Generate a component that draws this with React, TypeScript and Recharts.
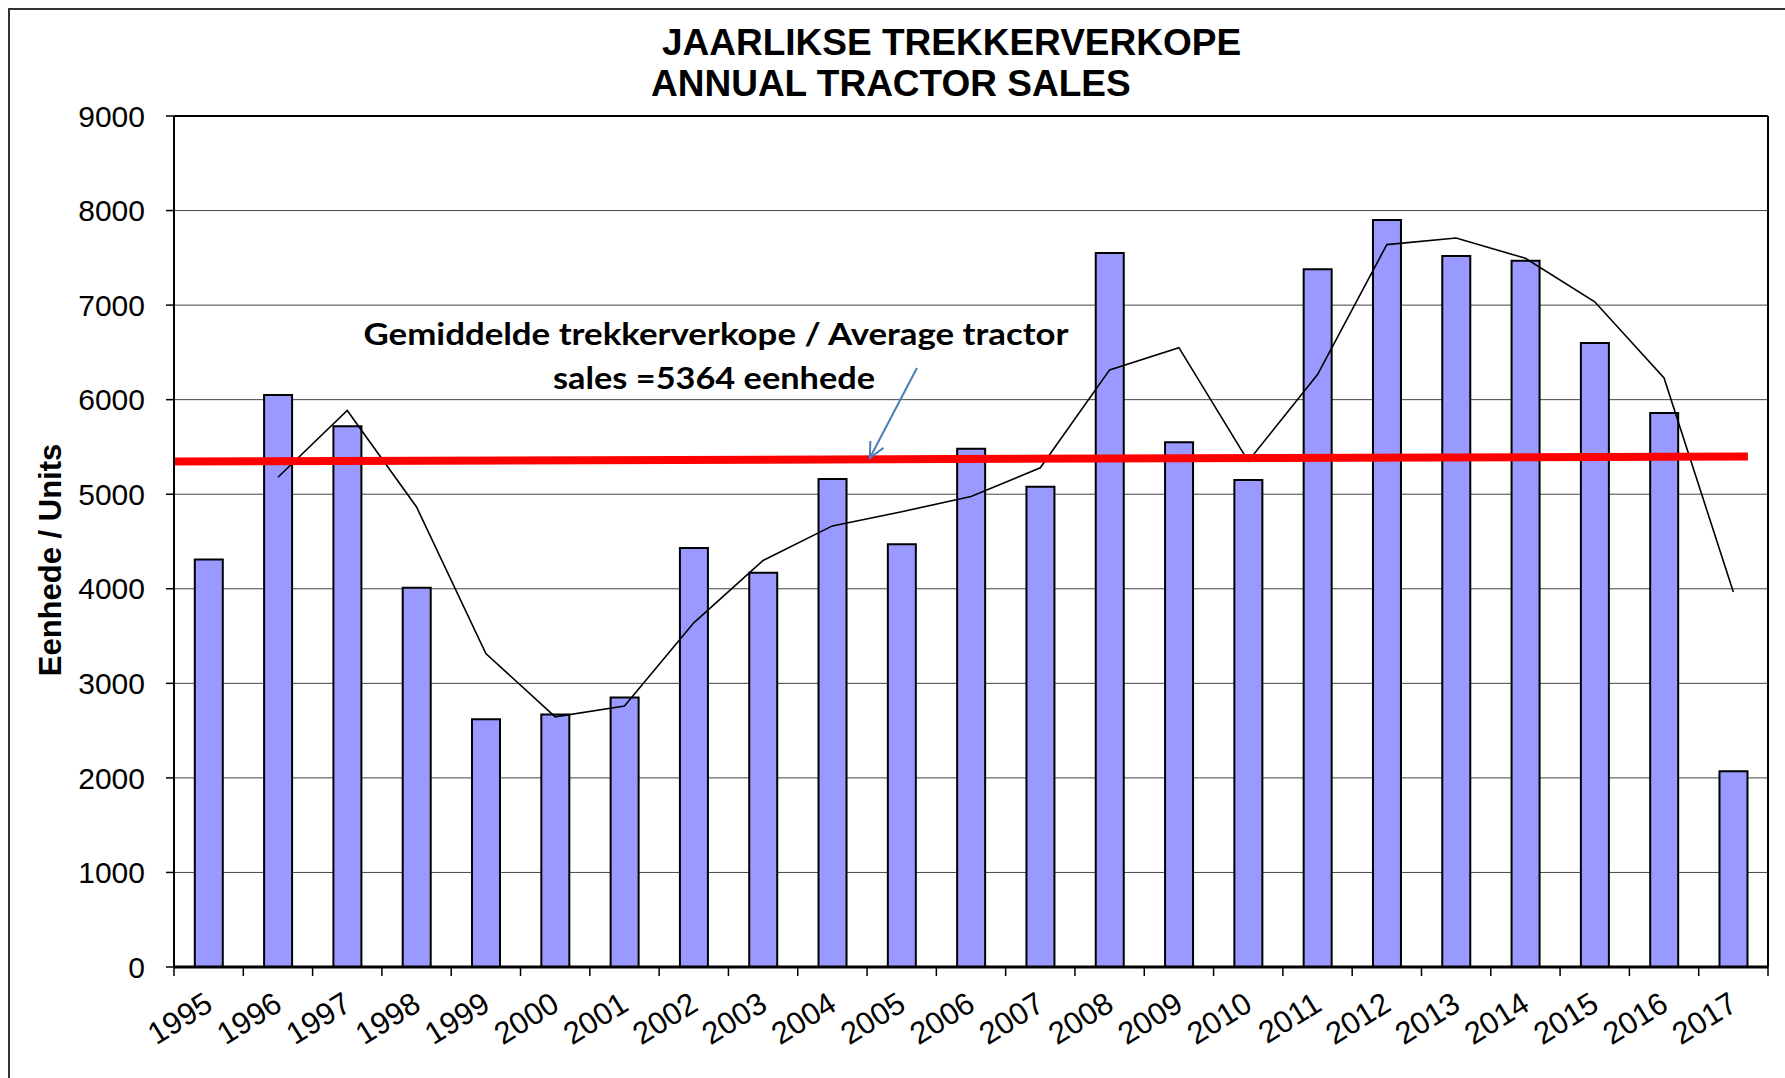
import React from 'react';
import { ComposedChart, Bar, Line, XAxis, YAxis, CartesianGrid, ReferenceLine } from 'recharts';

const years = ['1995', '1996', '1997', '1998', '1999', '2000', '2001', '2002', '2003', '2004', '2005', '2006', '2007', '2008', '2009', '2010', '2011', '2012', '2013', '2014', '2015', '2016', '2017'];
const sales = [4310, 6050, 5720, 4010, 2620, 2670, 2850, 4430, 4170, 5160, 4470, 5480, 5080, 7550, 5550, 5150, 7380, 7900, 7520, 7470, 6600, 5860, 2070];
const movingAverage = [null, 5180, 5885, 4865, 3315, 2645, 2760, 3640, 4300, 4665, 4815, 4975, 5280, 6315, 6550, 5350, 6265, 7640, 7710, 7495, 7035, 6230, 3965];
const yTicks = [0, 1000, 2000, 3000, 4000, 5000, 6000, 7000, 8000, 9000];
const averageTrend = [{ x: 0, y: 5345 }, { x: 22.71, y: 5400 }];
const arrowSegment = [{ x: 10.72, y: 6335 }, { x: 10.04, y: 5383 }];

const titleLines = ['JAARLIKSE TREKKERVERKOPE', 'ANNUAL TRACTOR SALES'];
const annotationLines = ['Gemiddelde trekkerverkope / Average tractor', 'sales =5364 eenhede'];
const yLabel = 'Eenhede / Units';

const data = years.map((year, i) => ({ year, slot: i, sales: sales[i], ma: movingAverage[i] }));

const W = 1785;
const H = 1078;
const PLOT_LEFT = 174;
const PLOT_RIGHT = 1768;
const PLOT_TOP = 116;
const PLOT_BOTTOM = 967;
const BAND = (PLOT_RIGHT - PLOT_LEFT) / years.length;

const FONT = '"Liberation Sans", Arial, sans-serif';

const XTick = (props: any) => {
  const { x, y, payload, index } = props;
  const left = x - BAND / 2;
  const right = x + BAND / 2;
  const tx = x + 6;
  const ty = y + 42;
  return (
    <g>
      <line x1={left} y1={y} x2={left} y2={y + 9} stroke="#000" strokeWidth={1.5} />
      {index === years.length - 1 && (
        <line x1={right} y1={y} x2={right} y2={y + 9} stroke="#000" strokeWidth={1.5} />
      )}
      <text
        x={tx}
        y={ty}
        textAnchor="end"
        transform={`rotate(-32 ${tx} ${ty})`}
        fontFamily={FONT}
        fontSize={31}
        fill="#000"
      >
        {payload.value}
      </text>
    </g>
  );
};

const ArrowShape = (p: any) => {
  const { x1, y1, x2, y2 } = p;
  const ang = Math.atan2(y2 - y1, x2 - x1);
  const len = 17;
  const spread = 0.45;
  const ax = x2 - len * Math.cos(ang - spread);
  const ay = y2 - len * Math.sin(ang - spread);
  const bx = x2 - len * Math.cos(ang + spread);
  const by = y2 - len * Math.sin(ang + spread);
  return (
    <g>
      <line x1={x1} y1={y1} x2={x2} y2={y2} stroke="#4a7ebb" strokeWidth={2} />
      <polyline points={`${ax},${ay} ${x2},${y2} ${bx},${by}`} fill="none" stroke="#4a7ebb" strokeWidth={2} />
    </g>
  );
};

export default function App() {
  return (
    <div style={{ position: 'absolute', left: 0, top: 0, width: W, height: H, background: '#fff', overflow: 'hidden' }}>
      <div
        style={{
          position: 'absolute',
          left: 8,
          top: 8,
          width: W,
          height: H,
          borderLeft: '2px solid #333',
          borderTop: '2px solid #333',
        }}
      />
      <div style={{ position: 'absolute', left: 0, top: 0 }}>
        <ComposedChart
          width={W}
          height={H}
          data={data}
          margin={{ top: PLOT_TOP, right: W - PLOT_RIGHT, bottom: 0, left: 0 }}
          barCategoryGap="30%"
        >
          <CartesianGrid horizontal vertical={false} stroke="#444" strokeWidth={1} />
          <XAxis
            dataKey="year"
            height={H - PLOT_BOTTOM}
            interval={0}
            tickLine={false}
            tickSize={0}
            tickMargin={0}
            axisLine={{ stroke: '#000', strokeWidth: 3 }}
            tick={<XTick />}
          />
          <XAxis
            xAxisId="num"
            dataKey="slot"
            type="number"
            domain={[0, 23]}
            padding={{ left: 0, right: 0 }}
            hide
            allowDataOverflow
          />
          <YAxis
            width={PLOT_LEFT}
            domain={[0, 9000]}
            ticks={yTicks}
            interval={0}
            tickSize={8}
            tickMargin={21}
            axisLine={{ stroke: '#000', strokeWidth: 2 }}
            tickLine={{ stroke: '#000', strokeWidth: 1.5 }}
            tick={{ fontFamily: FONT, fontSize: 30, fill: '#000' }}
          />
          <Bar dataKey="sales" fill="#9999ff" stroke="#000" strokeWidth={2} isAnimationActive={false} />
          <Line
            dataKey="ma"
            type="linear"
            stroke="#000"
            strokeWidth={1.6}
            dot={false}
            activeDot={false}
            isAnimationActive={false}
          />
          <ReferenceLine y={9000} stroke="#000" strokeWidth={2} />
          <ReferenceLine xAxisId="num" x={23} stroke="#000" strokeWidth={2} ifOverflow="visible" />
          <ReferenceLine xAxisId="num" segment={averageTrend} stroke="#ff0000" strokeWidth={8} ifOverflow="visible" />
          <ReferenceLine xAxisId="num" segment={arrowSegment} shape={<ArrowShape />} ifOverflow="visible" />
        </ComposedChart>
      </div>
      <svg width={W} height={H} style={{ position: 'absolute', left: 0, top: 0, pointerEvents: 'none' }}>
        <text x={662} y={55} fontFamily={FONT} fontWeight="bold" fontSize={37} fill="#000">
          {titleLines[0]}
        </text>
        <text x={651} y={96} fontFamily={FONT} fontWeight="bold" fontSize={37} fill="#000">
          {titleLines[1]}
        </text>
        <text
          x={61}
          y={560}
          textAnchor="middle"
          transform="rotate(-90 61 560)"
          fontFamily={FONT}
          fontWeight="bold"
          fontSize={31}
          fill="#000"
        >
          {yLabel}
        </text>
        <text
          x={716}
          y={345}
          textAnchor="middle"
          fontFamily="Lato, 'Open Sans', sans-serif"
          fontWeight="bold"
          fontSize={31}
          textLength={705}
          lengthAdjust="spacingAndGlyphs"
          fill="#000"
        >
          {annotationLines[0]}
        </text>
        <text
          x={714}
          y={389}
          textAnchor="middle"
          fontFamily="Lato, 'Open Sans', sans-serif"
          fontWeight="bold"
          fontSize={31}
          textLength={322}
          lengthAdjust="spacingAndGlyphs"
          fill="#000"
        >
          {annotationLines[1]}
        </text>
      </svg>
    </div>
  );
}
